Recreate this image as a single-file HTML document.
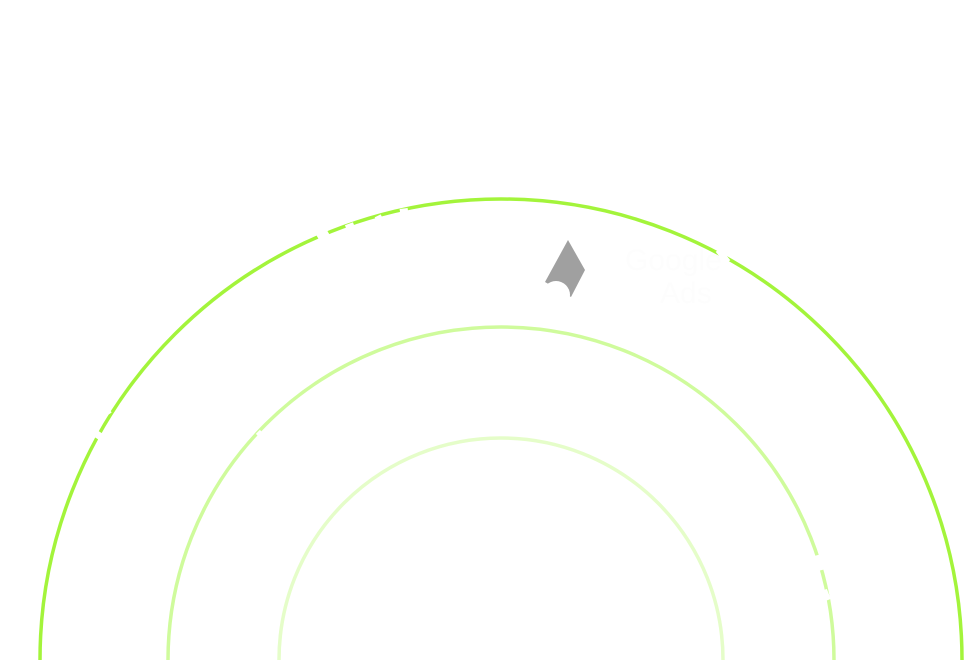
<!DOCTYPE html>
<html><head><meta charset="utf-8"><style>html,body{margin:0;padding:0;background:#fff;width:964px;height:660px;overflow:hidden;}svg{display:block}</style></head>
<body>
<svg width="964" height="660" viewBox="0 0 964 660" xmlns="http://www.w3.org/2000/svg">
<rect width="964" height="660" fill="#fff"/>
<path d="M40,660 A461,461 0 0 1 962,660" fill="none" stroke="#a3f43b" stroke-width="3.5"/>
<path d="M168,660 A333,333 0 0 1 834,660" fill="none" stroke="#cffb9c" stroke-width="3.5"/>
<path d="M279,660 A222,222 0 0 1 723,660" fill="none" stroke="#e5fdc9" stroke-width="3.5"/>
<g stroke="#fff" stroke-width="6">
<line x1="318" y1="238" x2="328" y2="232"/>
<line x1="346" y1="228" x2="354" y2="225"/>
<line x1="376" y1="220" x2="382" y2="217"/>
<line x1="400" y1="212" x2="408" y2="211"/>
<line x1="104" y1="414" x2="110" y2="410"/>
<line x1="96" y1="438" x2="100" y2="432"/>
<line x1="330" y1="364" x2="334" y2="362"/>
<line x1="303" y1="384" x2="308" y2="380"/>
<line x1="258" y1="436" x2="262" y2="432"/>
<line x1="810" y1="523" x2="815" y2="535"/>
<line x1="818" y1="555" x2="822" y2="570"/>
<line x1="824" y1="590" x2="828" y2="600"/>
<line x1="718" y1="250" x2="728" y2="262"/>
</g>
<polygon points="568,240 585,270 571,297 545,282" fill="#a0a0a0"/>
<circle cx="556" cy="295" r="14" fill="#fff"/>
<text x="625" y="270" font-family="Liberation Sans, sans-serif" font-size="30" fill="#fdfdfd">Google</text>
<text x="660" y="303" font-family="Liberation Sans, sans-serif" font-size="30" fill="#fdfdfd">Ads</text>
</svg>
</body></html>
